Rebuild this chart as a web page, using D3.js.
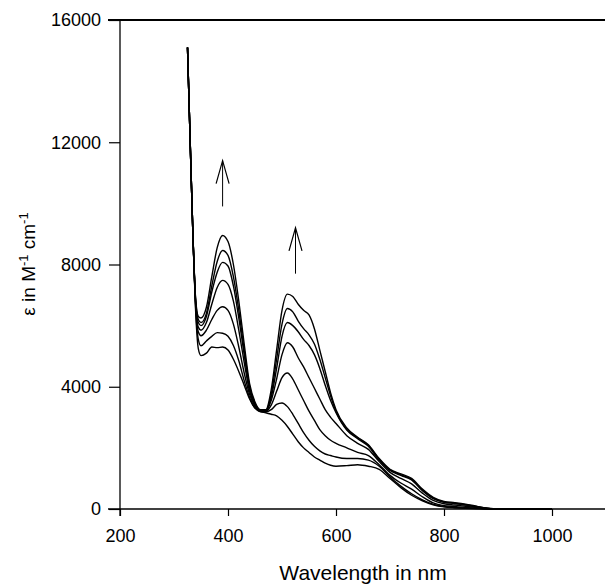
<!DOCTYPE html>
<html><head><meta charset="utf-8">
<script src="https://cdn.jsdelivr.net/npm/d3@7"></script>
<style>body{margin:0;background:#fff}svg{display:block}text{font-family:"Liberation Sans",Arial,sans-serif;fill:#000}</style>
</head><body><svg id="c" width="605" height="585"></svg>
<script>
// wavelengths (nm)
const wavelengths = [325,330,335,340,345,350,360,370,380,390,400,410,420,430,440,450,460,470,480,490,500,510,520,530,540,550,560,570,580,590,600,620,640,660,680,700,720,740,760,780,800,820,840,860,880,900,950,1000];
// extinction coefficient series (M^-1 cm^-1), final (top) to initial (bottom)
const s1 = [15100,12000,9000,6900,6300,6250,6600,7600,8550,8950,8750,8000,6800,5400,4100,3500,3250,3250,3900,5200,6500,7030,6950,6700,6500,6350,5900,5200,4500,3800,3250,2650,2350,2100,1650,1300,1150,1000,650,380,250,210,160,90,30,0,0,0];
const s2 = [15100,12000,9000,6850,6200,6100,6400,7300,8100,8460,8300,7600,6500,5200,4000,3450,3230,3230,3750,4900,6050,6560,6450,6150,5900,5700,5400,4900,4300,3700,3200,2600,2330,2080,1620,1280,1120,970,620,360,230,190,140,80,25,0,0,0];
const s3 = [15100,12000,9000,6800,6100,6000,6300,7100,7750,8070,7950,7300,6250,5050,3950,3420,3220,3220,3650,4600,5650,6100,6000,5800,5550,5350,5050,4600,4050,3550,3150,2580,2300,2050,1600,1260,1100,950,600,340,220,180,130,70,20,0,0,0];
const s4 = [15100,12000,9000,6750,5950,5850,6100,6700,7250,7480,7350,6800,5850,4800,3850,3400,3210,3210,3550,4250,5050,5440,5300,4950,4650,4300,3950,3600,3250,3000,2800,2400,2150,1950,1550,1200,1000,820,520,280,170,130,90,50,15,0,0,0];
const s5 = [15100,12000,9000,6700,5800,5670,5850,6200,6500,6620,6500,6050,5300,4450,3750,3350,3200,3200,3400,3850,4300,4450,4250,3900,3550,3200,2900,2600,2400,2250,2150,2000,1850,1750,1450,1100,850,650,400,200,110,80,50,30,10,0,0,0];
const s6 = [15100,12000,9000,6600,5550,5340,5500,5650,5770,5750,5650,5350,4850,4200,3650,3300,3200,3180,3250,3420,3470,3350,3100,2800,2500,2250,2050,1900,1800,1750,1700,1650,1650,1600,1400,1050,750,500,300,150,80,50,30,20,5,0,0,0];
const s7 = [15100,12000,9000,6500,5250,5020,5100,5300,5280,5300,5200,4900,4500,4050,3600,3300,3180,3150,3100,3050,2900,2700,2450,2200,2000,1850,1700,1600,1500,1430,1400,1420,1450,1400,1300,1000,700,450,270,140,70,40,20,10,0,0,0,0];
const seriesList = [s1,s2,s3,s4,s5,s6,s7];
// axis ticks
const xTicks = [200,400,600,800,1000];
const yTicks = [0,4000,8000,12000,16000];
// arrows: wavelength, start value, tip value
const arrowX = [390, 525];
const arrowFrom = [9900, 7700];
const arrowTo = [11400, 9200];

const svg = d3.select("#c");
const x = d3.scaleLinear().domain([200,1100]).range([120,606]);
const y = d3.scaleLinear().domain([0,16000]).range([509,20]);
const fmt = d3.format("d");

// top frame line
svg.append("line").attr("x1",108).attr("x2",605).attr("y1",y(16000)).attr("y2",y(16000))
  .attr("stroke","#000").attr("stroke-width",1.8);

const xa = svg.append("g").attr("transform",`translate(0,${y(0)})`)
  .call(d3.axisBottom(x).tickValues(xTicks).tickFormat(fmt).tickSize(7).tickPadding(13).tickSizeOuter(0));
xa.select(".domain").remove();
xa.append("line").attr("x1",108).attr("x2",606).attr("stroke","#000").attr("stroke-width",1.3);
xa.selectAll("text").attr("font-size",18).attr("font-family","Liberation Sans, Arial, sans-serif").attr("fill","#000");
xa.selectAll(".tick line").attr("stroke","#000").attr("stroke-width",1.2);

const ya = svg.append("g").attr("transform",`translate(${x(200)},0)`)
  .call(d3.axisLeft(y).tickValues(yTicks).tickFormat(fmt).tickSize(11).tickPadding(8).tickSizeOuter(0));
ya.select(".domain").remove();
ya.append("line").attr("y1",y(16000)).attr("y2",y(0)+7).attr("stroke","#000").attr("stroke-width",1.3);
ya.selectAll("text").attr("font-size",18).attr("font-family","Liberation Sans, Arial, sans-serif").attr("fill","#000");
ya.selectAll(".tick line").attr("stroke","#000").attr("stroke-width",1.2);

const line = d3.line().x((d,i)=>x(wavelengths[i])).y(d=>y(d)).curve(d3.curveMonotoneX);
svg.append("g").selectAll("path").data(seriesList).join("path")
  .attr("d",line).attr("fill","none").attr("stroke","#000").attr("stroke-width",1.4);

// arrows
arrowX.forEach((w,i)=>{
  const g = svg.append("g").attr("stroke","#000").attr("stroke-width",1).attr("fill","none");
  g.append("line").attr("x1",x(w)).attr("x2",x(w)).attr("y1",y(arrowFrom[i])).attr("y2",y(arrowTo[i]));
  g.append("path").attr("d",`M${x(w)-6.5},${y(arrowTo[i])+23}L${x(w)},${y(arrowTo[i])}L${x(w)+6.5},${y(arrowTo[i])+23}`).attr("stroke-width",1.2);
});

svg.append("text").attr("x",363).attr("y",580).attr("text-anchor","middle").attr("font-size",21).text("Wavelength in nm");
const yt = svg.append("text").attr("transform","translate(35,264) rotate(-90)").attr("text-anchor","middle").attr("font-size",19);
yt.append("tspan").text("ε in M");
yt.append("tspan").attr("font-size",13).attr("dy",-7).text("-1");
yt.append("tspan").attr("dy",7).text(" cm");
yt.append("tspan").attr("font-size",13).attr("dy",-7).text("-1");
</script></body></html>
